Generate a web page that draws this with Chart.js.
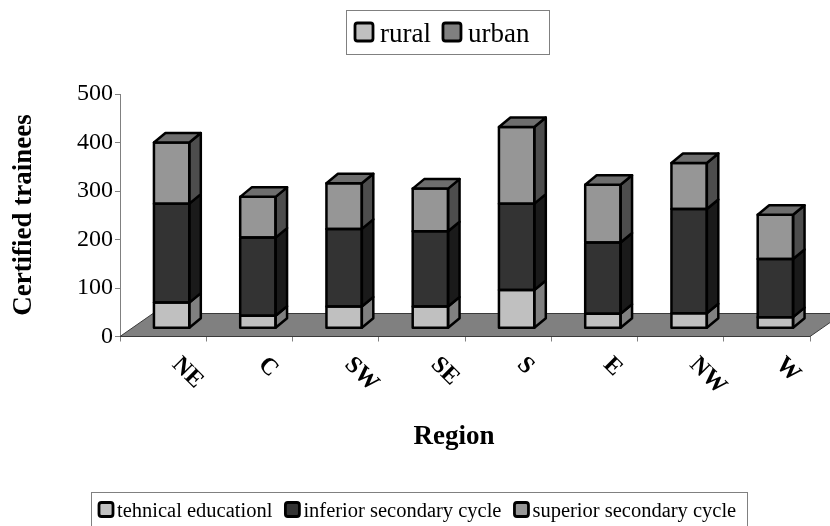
<!DOCTYPE html>
<html>
<head>
<meta charset="utf-8">
<script src="https://cdn.jsdelivr.net/npm/chart.js@4/dist/chart.umd.min.js"></script>
<style>
  html, body { margin: 0; padding: 0; background: #fff; }
  canvas { display: block; }
</style>
</head>
<body>
<canvas id="chart" width="830" height="526"></canvas>
<script>
// Certified trainees by region, split by education level
const regions = ['NE', 'C', 'SW', 'SE', 'S', 'E', 'NW', 'W'];
const technical = [53, 26, 45, 45, 79, 30, 31, 23];
const inferior  = [204, 161, 160, 155, 178, 147, 215, 120];
const superior  = [126, 84, 94, 88, 158, 119, 95, 91];
const seriesNames = ['tehnical educationl', 'inferior secondary cycle', 'superior secondary cycle'];
const areaNames = ['rural', 'urban'];
const yTicks = [0, 100, 200, 300, 400, 500];

// styling
const SERIF = '"Liberation Serif", "Times New Roman", serif';
const frontColors = ['#c0c0c0', '#333333', '#969696'];
const sideColors  = ['#808080', '#1a1a1a', '#4d4d4d'];
const topColor = '#6e6e6e';
const areaColors = ['#c0c0c0', '#808080'];

// 3D geometry (screen offsets)
const FLOOR_DX = 33, FLOOR_DY = -23;    // floor depth
const BAR_DX = 8.5, BAR_DY = -8.2;      // bar front plane set back into the floor
const DEPTH_DX = 11.5, DEPTH_DY = -9.5; // bar thickness
const EDGE = 2.5;

const shade3d = {
  id: 'shade3d',
  beforeDatasetsDraw(chart) {
    const { ctx, chartArea: a } = chart;
    ctx.save();
    ctx.beginPath();
    ctx.moveTo(a.left, a.bottom);
    ctx.lineTo(a.right, a.bottom);
    ctx.lineTo(a.right + FLOOR_DX, a.bottom + FLOOR_DY);
    ctx.lineTo(a.left + FLOOR_DX, a.bottom + FLOOR_DY);
    ctx.closePath();
    ctx.fillStyle = '#808080';
    ctx.fill();
    ctx.strokeStyle = '#3a3a3a';
    ctx.lineWidth = 1;
    ctx.stroke();
    ctx.restore();
    // bars are drawn on the front plane of the columns
    ctx.save();
    ctx.translate(BAR_DX, BAR_DY);
  },
  afterDatasetsDraw(chart) {
    const ctx = chart.ctx;
    const metas = chart.getSortedVisibleDatasetMetas();
    ctx.lineWidth = EDGE;
    ctx.lineJoin = 'round';
    ctx.strokeStyle = '#000';
    for (let i = 0; i < regions.length; i++) {
      metas.forEach((meta, d) => {
        const el = meta.data[i];
        const p = el.getProps(['x', 'y', 'base', 'width'], true);
        const l = p.x - p.width / 2, r = p.x + p.width / 2;
        const top = Math.min(p.y, p.base), bot = Math.max(p.y, p.base);
        // right side face
        ctx.beginPath();
        ctx.moveTo(r, top);
        ctx.lineTo(r + DEPTH_DX, top + DEPTH_DY);
        ctx.lineTo(r + DEPTH_DX, bot + DEPTH_DY);
        ctx.lineTo(r, bot);
        ctx.closePath();
        ctx.fillStyle = sideColors[d];
        ctx.fill();
        ctx.stroke();
        // front face outline
        ctx.strokeRect(l, top, p.width, bot - top);
        // lid on the top segment
        if (d === metas.length - 1) {
          ctx.beginPath();
          ctx.moveTo(l, top);
          ctx.lineTo(l + DEPTH_DX, top + DEPTH_DY);
          ctx.lineTo(r + DEPTH_DX, top + DEPTH_DY);
          ctx.lineTo(r, top);
          ctx.closePath();
          ctx.fillStyle = topColor;
          ctx.fill();
          ctx.stroke();
        }
      });
    }
    ctx.restore();
  }
};

function swatch(ctx, x, y, s, color) {
  ctx.save();
  ctx.beginPath();
  ctx.roundRect(x, y, s, s, 2.5);
  ctx.fillStyle = color;
  ctx.fill();
  ctx.lineWidth = 2.8;
  ctx.strokeStyle = '#000';
  ctx.stroke();
  ctx.restore();
}

const decorations = {
  id: 'decorations',
  afterDraw(chart) {
    const { ctx, chartArea: a } = chart;
    const xs = chart.scales.x;
    ctx.save();
    ctx.fillStyle = '#000';

    // category labels, turned 45 degrees
    ctx.font = 'bold 24px ' + SERIF;
    ctx.textAlign = 'left';
    ctx.textBaseline = 'middle';
    regions.forEach((name, i) => {
      const cx = xs.getPixelForValue(i);
      ctx.save();
      ctx.translate(cx + 12.5, a.bottom + 24.5);
      ctx.rotate(Math.PI / 4);
      ctx.fillText(name, 0, 0);
      ctx.restore();
    });

    // axis titles
    ctx.font = 'bold 27px ' + SERIF;
    ctx.textAlign = 'center';
    ctx.textBaseline = 'middle';
    ctx.fillText('Region', 454, 437);
    ctx.save();
    ctx.translate(24, 215);
    ctx.rotate(-Math.PI / 2);
    ctx.fillText('Certified trainees', 0, 0);
    ctx.restore();

    // upper key
    ctx.fillStyle = '#fff';
    ctx.fillRect(346, 10, 203, 44);
    ctx.strokeStyle = '#808080';
    ctx.lineWidth = 1;
    ctx.strokeRect(346.5, 10.5, 203, 44);
    ctx.font = '27px ' + SERIF;
    ctx.textAlign = 'left';
    ctx.textBaseline = 'alphabetic';
    let x = 355;
    areaNames.forEach((name, i) => {
      swatch(ctx, x, 23, 18, areaColors[i]);
      ctx.fillStyle = '#000';
      ctx.fillText(name, x + 25, 42);
      x += 25 + ctx.measureText(name).width + 12;
    });

    // series key
    ctx.fillStyle = '#fff';
    ctx.fillRect(91, 492, 656, 40);
    ctx.strokeStyle = '#808080';
    ctx.lineWidth = 1;
    ctx.strokeRect(91.5, 492.5, 656, 40);
    ctx.font = '20.5px ' + SERIF;
    x = 99;
    seriesNames.forEach((name, i) => {
      swatch(ctx, x, 502.5, 14, frontColors[i]);
      ctx.fillStyle = '#000';
      ctx.fillText(name, x + 18, 517);
      x += 18 + ctx.measureText(name).width + 13;
    });
    ctx.restore();
  }
};

const series = [technical, inferior, superior];

new Chart(document.getElementById('chart'), {
  type: 'bar',
  data: {
    labels: regions,
    datasets: series.map((vals, i) => ({
      label: seriesNames[i],
      data: vals,
      backgroundColor: frontColors[i],
      borderWidth: 0,
      barPercentage: 1,
      categoryPercentage: 0.41,
      clip: false
    }))
  },
  options: {
    responsive: false,
    animation: false,
    events: [],
    layout: { padding: { top: 94, left: 0, right: 20, bottom: 0 } },
    plugins: { legend: { display: false }, tooltip: { enabled: false } },
    scales: {
      x: {
        stacked: true,
        offset: true,
        grid: { offset: true, drawOnChartArea: false, drawTicks: true, tickLength: 5, color: '#808080' },
        border: { display: true, color: '#808080', width: 1 },
        ticks: { display: false },
        afterFit(scale) { scale.height = 189.5; }
      },
      y: {
        stacked: true,
        min: 0,
        max: 500,
        afterBuildTicks(scale) { scale.ticks = yTicks.map(v => ({ value: v })); },
        grid: { drawOnChartArea: false, drawTicks: true, tickLength: 5, color: '#808080' },
        border: { display: true, color: '#808080', width: 1 },
        ticks: { color: '#000', padding: 2, font: { family: SERIF, size: 24 } },
        afterFit(scale) { scale.width = 120; }
      }
    }
  },
  plugins: [shade3d, decorations]
});
</script>
</body>
</html>
